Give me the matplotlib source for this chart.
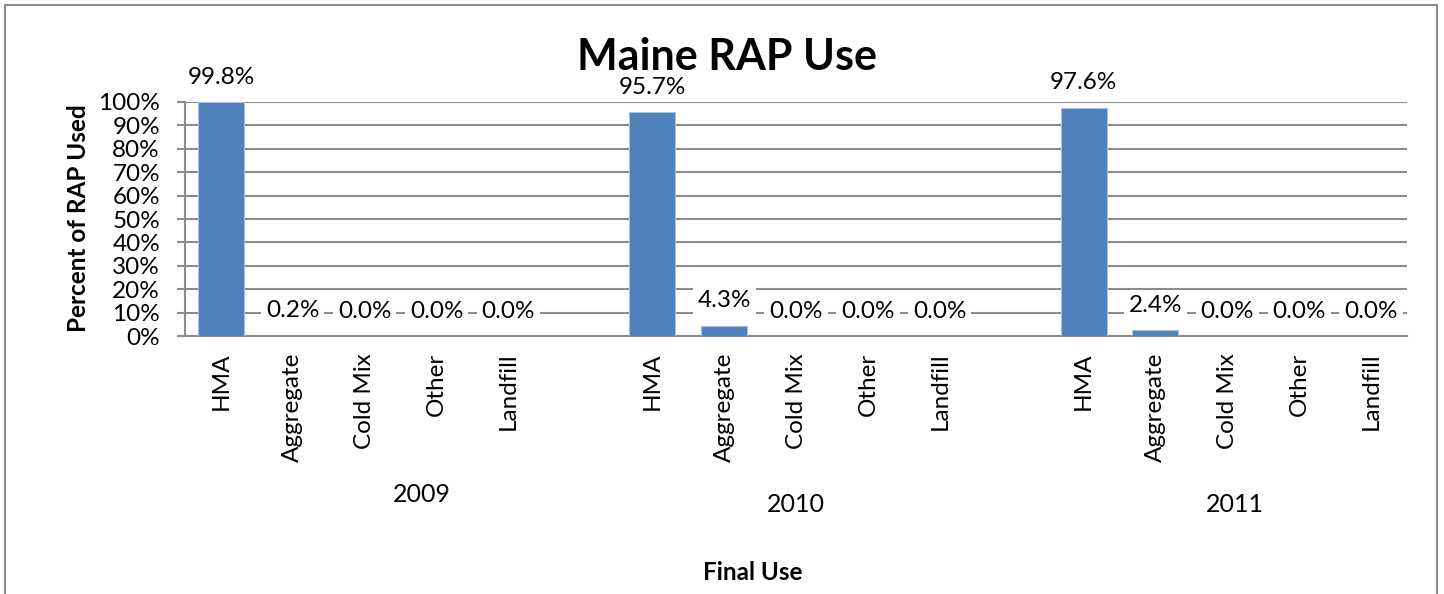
import matplotlib.pyplot as plt
from matplotlib.patches import Rectangle
from matplotlib.ticker import PercentFormatter
from matplotlib import transforms

plt.rcParams['font.family'] = ['Lato', 'DejaVu Sans']

# data
years = ["2009", "2010", "2011"]
uses = ["HMA", "Aggregate", "Cold Mix", "Other", "Landfill"]
pct_2009 = [99.8, 0.2, 0.0, 0.0, 0.0]
pct_2010 = [95.7, 4.3, 0.0, 0.0, 0.0]
pct_2011 = [97.6, 2.4, 0.0, 0.0, 0.0]

blue = "#4F81BD"
grid_gray = "#8C8C8C"
fs = 17.5

fig = plt.figure(figsize=(14.44, 5.94), dpi=100)
ax = fig.add_axes([0.1281, 0.4343, 0.8463, 0.394])

# outer chart border
fig.patches.append(Rectangle((5 / 1444, -0.05), 1432 / 1444, 1.05 - 5 / 594,
                             transform=fig.transFigure, fill=False,
                             edgecolor="#8C8C8C", linewidth=1.5))

# slot positions: 5 bars per year with one empty slot between years
xs, vals, labels = [], [], []
for g, series in enumerate([pct_2009, pct_2010, pct_2011]):
    for i, v in enumerate(series):
        xs.append(g * 6 + i)
        vals.append(v)
        labels.append(uses[i])

ax.bar(xs, vals, width=0.64, color=blue, edgecolor="#A7C0DE",
       linewidth=0.8, zorder=3)

for x, v in zip(xs, vals):
    ax.annotate(f"{v:.1f}%", (x, v), xytext=(0, 18), textcoords="offset points",
                ha="center", va="center", fontsize=fs, zorder=5,
                bbox=dict(boxstyle="square,pad=0.2", fc="white", ec="none"))

ax.set_ylim(0, 100)
ax.set_xlim(-0.5, 16.5)
ax.set_yticks(range(0, 101, 10))
ax.yaxis.set_major_formatter(PercentFormatter(decimals=0))
ax.yaxis.grid(True, color=grid_gray, linewidth=1.5, zorder=0)
ax.set_axisbelow(True)

ax.set_xticks(xs)
ax.set_xticklabels(labels, rotation=90, fontsize=fs)
ax.tick_params(axis="x", length=0, pad=12)
ax.tick_params(axis="y", length=6, width=1.5, color=grid_gray,
               labelsize=fs, pad=12)

for side in ["top", "right"]:
    ax.spines[side].set_visible(False)
ax.spines["left"].set_color(grid_gray)
ax.spines["left"].set_linewidth(1.5)
ax.spines["bottom"].set_color(grid_gray)
ax.spines["bottom"].set_linewidth(1.5)

# year group labels under the category labels
trans = transforms.blended_transform_factory(ax.transData, fig.transFigure)
year_x = [2.8, 8.0, 14.1]
year_y = [1 - 495 / 594, 1 - 505 / 594, 1 - 505 / 594]
for yr, x, y in zip(years, year_x, year_y):
    ax.text(x, y, yr, transform=trans, ha="center", va="center", fontsize=18)

fig.text(753 / 1444, 1 - 572 / 594, "Final Use", ha="center", va="center",
         fontsize=fs, fontweight="bold")
fig.text(78 / 1444, 1 - 218 / 594, "Percent of RAP Used", ha="center",
         va="center", rotation=90, fontsize=fs, fontweight="bold")
fig.text(727 / 1444, 1 - 57 / 594, "Maine RAP Use", ha="center", va="center",
         fontsize=31, fontweight="bold")

fig.savefig("out.png", dpi=100)
